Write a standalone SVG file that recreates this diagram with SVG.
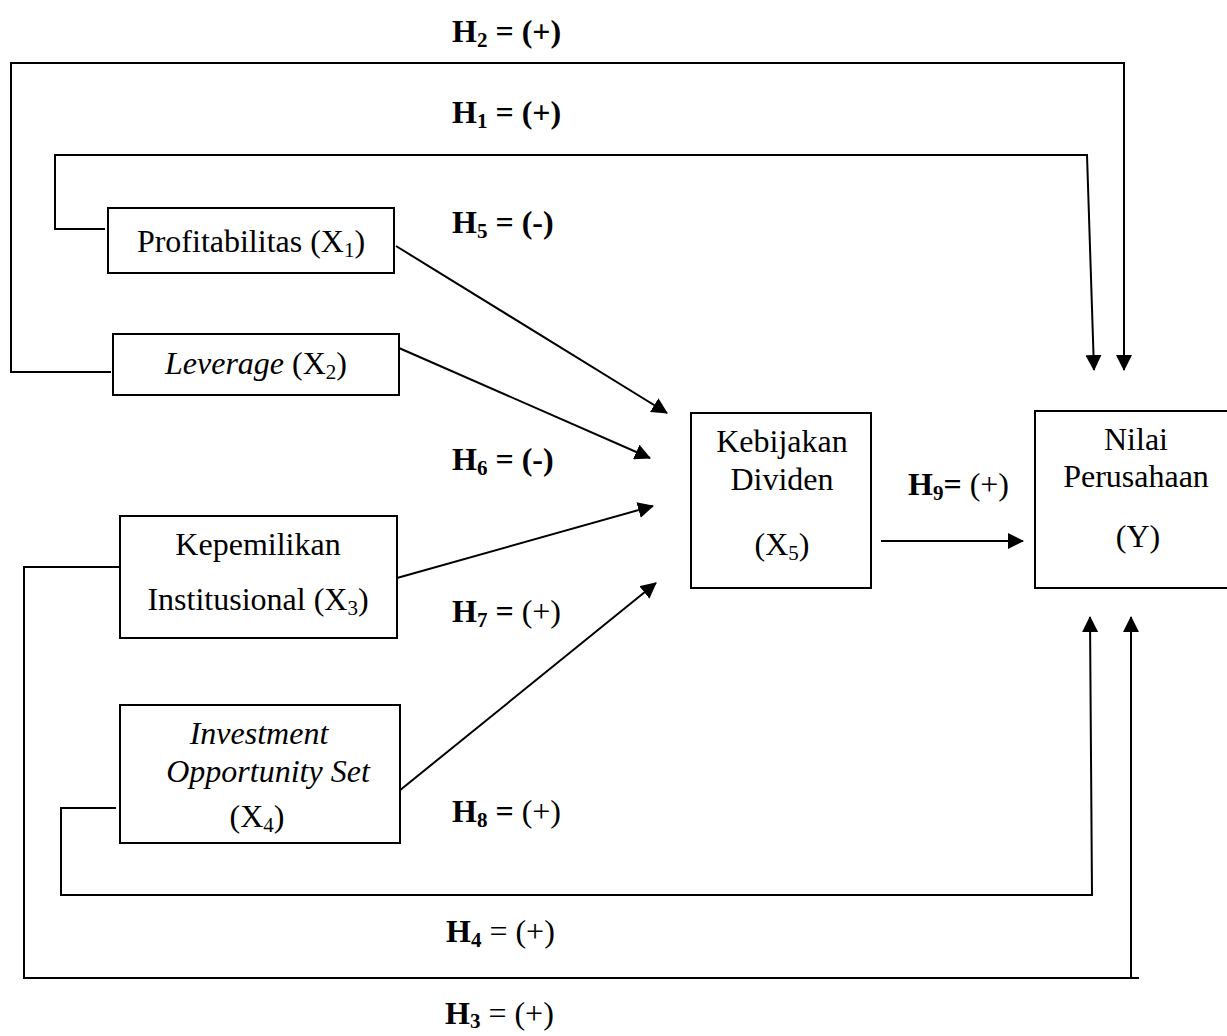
<svg xmlns="http://www.w3.org/2000/svg" width="1227" height="1036" viewBox="0 0 1227 1036">
<defs>
<marker id="ah" markerUnits="userSpaceOnUse" markerWidth="16" markerHeight="16" refX="15" refY="8" orient="auto" viewBox="0 0 16 16">
<path d="M0,0 L16,8 L0,16 z" fill="#000"/>
</marker>
</defs>
<style>
.box{fill:#fff;stroke:#000;stroke-width:2}
.ln{fill:none;stroke:#000;stroke-width:2}
.ar{fill:none;stroke:#000;stroke-width:2;marker-end:url(#ah)}
text{font-family:"Liberation Serif","Times New Roman",serif;font-size:32px;fill:#000}
.b{font-weight:bold}
.i{font-style:italic}
.m{text-anchor:middle}
.s{font-size:21px}
</style>
<rect width="1227" height="1036" fill="#fff"/>
<g id="connectors">
<polyline class="ar" points="111,372 11,372 11,63 1124,63 1124,370"/>
<polyline class="ar" points="105,229 55,229 55,155 1087,155 1094,370"/>
<line class="ar" x1="396" y1="246" x2="667" y2="413"/>
<line class="ar" x1="399" y1="348" x2="650" y2="458"/>
<line class="ar" x1="397" y1="578" x2="653" y2="506"/>
<line class="ar" x1="399" y1="791" x2="656" y2="583"/>
<line class="ar" x1="881" y1="541" x2="1023" y2="541"/>
<polyline class="ar" points="116,808 61,808 61,895 1092,895 1090,617"/>
<polyline class="ln" points="120,567 24,567 24,978 1139,978"/>
<line class="ar" x1="1131" y1="978" x2="1131" y2="617"/>
</g>
<g id="labels">
<text x="452" y="42" class="b">H<tspan class="s" dy="5">2</tspan><tspan dy="-5"> = (+)</tspan></text>
<text x="452" y="123" class="b">H<tspan class="s" dy="5">1</tspan><tspan dy="-5"> = (+)</tspan></text>
<text x="452" y="233" class="b">H<tspan class="s" dy="5">5</tspan><tspan dy="-5"> = (-)</tspan></text>
<text x="452" y="470" class="b">H<tspan class="s" dy="5">6</tspan><tspan dy="-5"> = (-)</tspan></text>
<text x="452" y="622"><tspan class="b">H</tspan><tspan class="s b" dy="5">7</tspan><tspan class="b" dy="-5"> =</tspan> (+)</text>
<text x="452" y="822"><tspan class="b">H</tspan><tspan class="s b" dy="5">8</tspan><tspan class="b" dy="-5"> =</tspan> (+)</text>
<text x="908" y="495"><tspan class="b">H</tspan><tspan class="s b" dy="5">9</tspan><tspan class="b" dy="-5">=</tspan> (+)</text>
<text x="446" y="942"><tspan class="b">H</tspan><tspan class="s b" dy="5">4</tspan><tspan dy="-5"> = (+)</tspan></text>
<text x="445" y="1024"><tspan class="b">H</tspan><tspan class="s b" dy="4">3</tspan><tspan dy="-4"> = (+)</tspan></text>
</g>
<g id="profitabilitas">
<rect class="box" x="108" y="208" width="286" height="65"/>
<text x="251" y="252" class="m">Profitabilitas (X<tspan class="s" dy="5">1</tspan><tspan dy="-5">)</tspan></text>
</g>
<g id="leverage">
<rect class="box" x="113" y="334" width="286" height="61"/>
<text x="256" y="374" class="m"><tspan class="i">Leverage</tspan> (X<tspan class="s" dy="5">2</tspan><tspan dy="-5">)</tspan></text>
</g>
<g id="kepemilikan">
<rect class="box" x="120" y="516" width="277" height="122"/>
<text x="258" y="555" class="m">Kepemilikan</text>
<text x="258" y="610" class="m">Institusional (X<tspan class="s" dy="5">3</tspan><tspan dy="-5">)</tspan></text>
</g>
<g id="ios">
<rect class="box" x="120" y="705" width="280" height="138"/>
<text x="259" y="744" class="m i">Investment</text>
<text x="268" y="782" class="m i">Opportunity Set</text>
<text x="257" y="827" class="m">(X<tspan class="s" dy="5">4</tspan><tspan dy="-5">)</tspan></text>
</g>
<g id="kebijakan">
<rect class="box" x="691" y="413" width="180" height="175"/>
<text x="782" y="452" class="m">Kebijakan</text>
<text x="782" y="490" class="m">Dividen</text>
<text x="782" y="555" class="m">(X<tspan class="s" dy="5">5</tspan><tspan dy="-5">)</tspan></text>
</g>
<g id="nilai">
<rect class="box" x="1035" y="411" width="200" height="177"/>
<text x="1136" y="450" class="m">Nilai</text>
<text x="1136" y="487" class="m">Perusahaan</text>
<text x="1138" y="547" class="m">(Y)</text>
</g>
</svg>
